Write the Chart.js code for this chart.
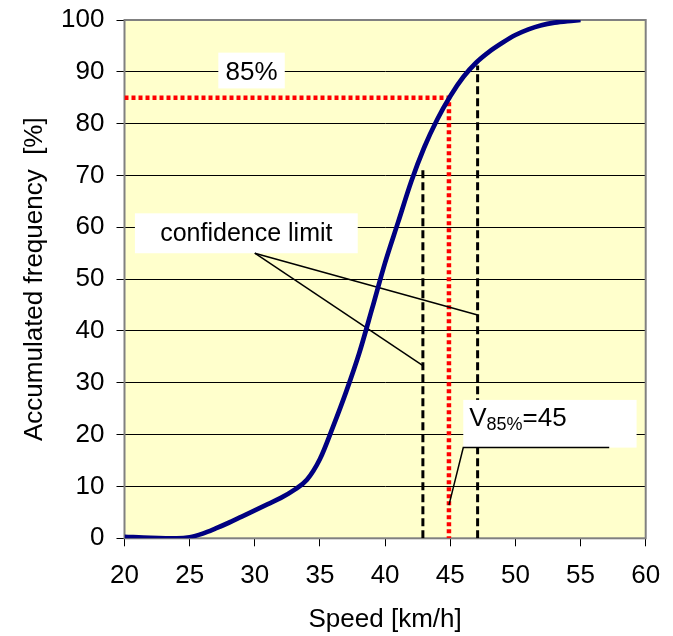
<!DOCTYPE html>
<html>
<head>
<meta charset="utf-8">
<script src="https://cdn.jsdelivr.net/npm/chart.js@4.4.1/dist/chart.umd.min.js"></script>
<style>
  html, body { margin: 0; padding: 0; background: #fff; }
  #wrap { width: 673px; height: 636px; }
</style>
</head>
<body>
<div id="wrap"><canvas id="speedChart" width="673" height="636"></canvas></div>
<script>
// accumulated speed distribution
const speeds = [20, 22, 24, 25, 26, 27, 28, 29, 30, 31, 32, 33, 34, 35, 36, 37, 38,
  39, 40, 41, 42, 43, 44, 45, 46, 47, 48, 49, 50, 51, 52, 53, 54, 55];
const accumulated = [0.3, 0.1, 0, 0.2, 0.9, 1.9, 3.0, 4.2, 5.4, 6.6, 7.8, 9.3, 11.3, 15.3, 21.5, 28.2, 35.6,
  44.3, 53.2, 61.0, 68.8, 75.4, 80.8, 85.3, 89.0, 91.8, 93.9, 95.6, 97.1, 98.2, 99.0, 99.5, 99.8, 100];

const xTicks = [20, 25, 30, 35, 40, 45, 50, 55, 60];
const yTicks = [0, 10, 20, 30, 40, 50, 60, 70, 80, 90, 100];

// V85 and its confidence limits
const v85 = 44.9;
const v85Level = 85;
const lowerLimit = [42.9, 71.5];
const upperLimit = [47.1, 91.2];

// leader lines of the notes
const leaderLower = [[30, 55], [42.9, 33.3]];
const leaderUpper = [[30, 55], [47.1, 43.1]];
const leaderV85 = [[44.9, 6.4], [46.0, 17.5], [57.2, 17.5]];

// note boxes (data units: x0, y0, x1, y1) and their texts
const noteBoxes = [
  [27.2, 93.7, 32.3, 86.8],
  [20.8, 62.7, 37.9, 55.0],
  [46.0, 26.7, 59.3, 17.5]
];
const noteTexts = [
  { x: 29.75, y: 88.5, align: 'center', parts: [['85%', 26, 0]] },
  { x: 29.35, y: 57.4, align: 'center', parts: [['confidence limit', 25, 0]] },
  { x: 46.45, y: 21.7, align: 'left', parts: [['V', 26, 0], ['85%', 18, 4.5], ['=45', 26, 0]] }
];

const FONT = '"Liberation Sans", Arial, Helvetica, sans-serif';
const pts = list => list.map(p => ({ x: p[0], y: p[1] }));

const sheet = {
  id: 'sheet',
  beforeDraw(chart) {
    const { ctx, chartArea: a } = chart;
    ctx.save();
    ctx.fillStyle = '#ffffcc';
    ctx.fillRect(a.left, a.top, a.right - a.left, a.bottom - a.top);
    ctx.restore();
  },
  beforeDatasetsDraw(chart) {
    const { ctx, chartArea: a } = chart;
    ctx.save();
    ctx.strokeStyle = '#808080';
    ctx.lineWidth = 2;
    ctx.strokeRect(a.left, a.top, a.right - a.left, a.bottom - a.top);
    ctx.restore();
  },
  afterDatasetDraw(chart, args) {
    if (args.index !== 4) return;
    const { ctx, scales: { x, y } } = chart;
    ctx.save();
    ctx.fillStyle = '#ffffff';
    noteBoxes.forEach(b => {
      const x0 = x.getPixelForValue(b[0]), x1 = x.getPixelForValue(b[2]);
      const y0 = y.getPixelForValue(b[1]), y1 = y.getPixelForValue(b[3]);
      ctx.fillRect(x0, y0, x1 - x0, y1 - y0);
    });
    ctx.fillStyle = '#000';
    ctx.textBaseline = 'alphabetic';
    ctx.textAlign = 'left';
    noteTexts.forEach(n => {
      let width = 0;
      n.parts.forEach(p => {
        ctx.font = p[1] + 'px ' + FONT;
        width += ctx.measureText(p[0]).width;
      });
      let px = x.getPixelForValue(n.x);
      if (n.align === 'center') px -= width / 2;
      const py = y.getPixelForValue(n.y);
      n.parts.forEach(p => {
        ctx.font = p[1] + 'px ' + FONT;
        ctx.fillText(p[0], px, py + p[2]);
        px += ctx.measureText(p[0]).width;
      });
    });
    ctx.restore();
  }
};

const lineSet = (data, color, width, dash) => ({
  data: data,
  showLine: true,
  borderColor: color,
  borderWidth: width,
  borderDash: dash || [],
  pointRadius: 0,
  fill: false
});

const ctx = document.getElementById('speedChart').getContext('2d');
const chart = new Chart(ctx, {
  type: 'scatter',
  data: {
    datasets: [
      Object.assign(lineSet(speeds.map((s, i) => ({ x: s, y: accumulated[i] })), '#000080', 4.7),
        { cubicInterpolationMode: 'monotone' }),
      lineSet(pts(leaderLower), '#000', 1.5),
      lineSet(pts(leaderUpper), '#000', 1.5),
      lineSet(pts(leaderV85), '#000', 1.5),
      lineSet([{ x: 20, y: v85Level }, { x: v85, y: v85Level }, { x: v85, y: 0 }], '#ff0000', 4.5, [4, 3]),
      lineSet([{ x: lowerLimit[0], y: 0 }, { x: lowerLimit[0], y: lowerLimit[1] }], '#000', 3, [8, 4]),
      lineSet([{ x: upperLimit[0], y: 0 }, { x: upperLimit[0], y: upperLimit[1] }], '#000', 3, [8, 4])
    ]
  },
  options: {
    responsive: false,
    animation: false,
    layout: { padding: { top: 20, right: 27.3, left: 0, bottom: 0 } },
    plugins: {
      legend: { display: false },
      tooltip: { enabled: false }
    },
    scales: {
      x: {
        type: 'linear',
        min: 20,
        max: 60,
        afterBuildTicks: s => { s.ticks = xTicks.map(v => ({ value: v })); },
        afterFit: s => { s.height = 97.7; s.paddingLeft = 0; s.paddingRight = 0; },
        grid: { drawOnChartArea: false, color: '#000', tickLength: 8, lineWidth: 1 },
        border: { display: false },
        ticks: { color: '#000', padding: 14, font: { family: FONT, size: 26 } },
        title: {
          display: true,
          text: 'Speed [km/h]',
          color: '#000',
          padding: { top: 0, bottom: 1 },
          font: { family: FONT, size: 26 }
        }
      },
      y: {
        min: 0,
        max: 100,
        afterBuildTicks: s => { s.ticks = yTicks.map(v => ({ value: v })); },
        afterFit: s => { s.width = 124.5; s.paddingTop = 0; s.paddingBottom = 0; },
        grid: { color: '#000', tickLength: 8, lineWidth: 1 },
        border: { display: false },
        ticks: { color: '#000', padding: 12, font: { family: FONT, size: 26 } },
        title: {
          display: true,
          text: 'Accumulated frequency  [%]',
          color: '#000',
          padding: { top: 19, bottom: 0 },
          font: { family: FONT, size: 26 }
        }
      }
    }
  },
  plugins: [sheet]
});
</script>
</body>
</html>
